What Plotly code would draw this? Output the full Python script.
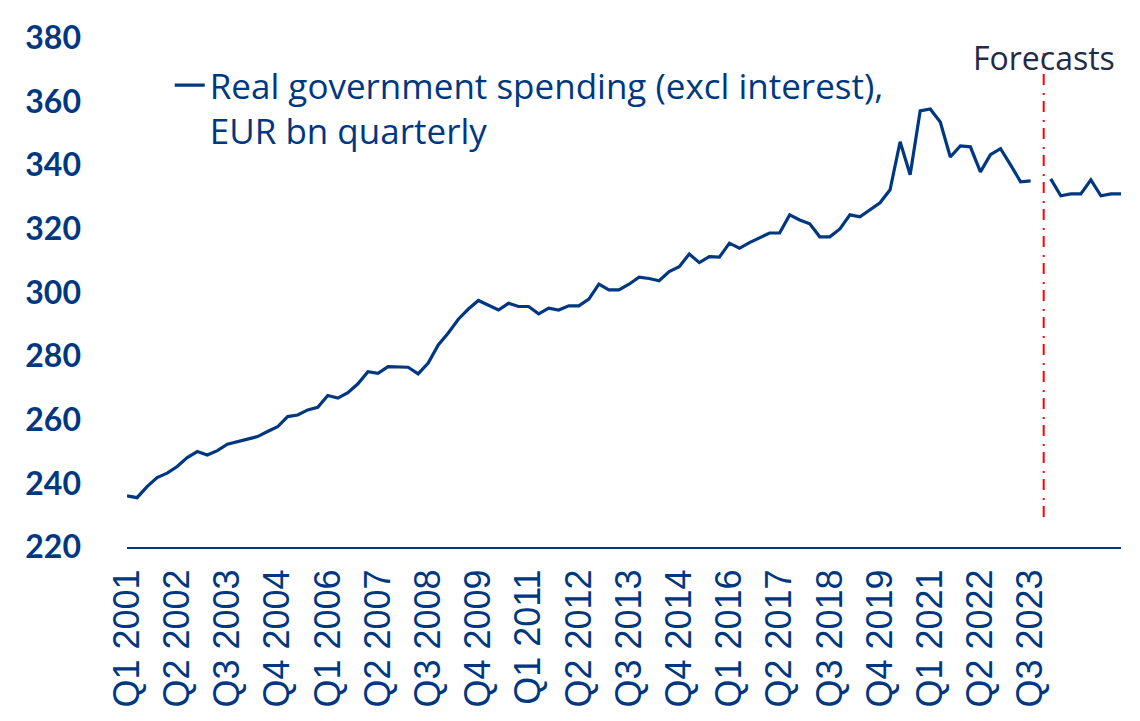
import plotly.graph_objects as go

# ---- data ----
years = list(range(2001, 2026))
quarters = ["Q1", "Q2", "Q3", "Q4"]
categories = [f"{q} {y}" for y in years for q in quarters]  # Q1 2001 .. Q4 2025

historical = [
    236.1, 235.5, 239.0, 241.8, 243.2, 245.3, 248.1, 250.0, 248.9, 250.3,
    252.3, 253.1, 254.0, 254.7, 256.3, 257.8, 261.0, 261.5, 263.1, 263.9,
    267.6, 266.8, 268.5, 271.3, 275.1, 274.6, 276.7, 276.5, 276.5, 274.4,
    277.8, 283.5, 287.3, 291.6, 294.8, 297.5, 295.9, 294.5, 296.6, 295.6,
    295.6, 293.3, 295.1, 294.5, 295.8, 295.8, 297.9, 302.6, 300.8, 300.8,
    302.6, 304.8, 304.4, 303.7, 306.6, 308.1, 312.1, 309.4, 311.3, 311.1,
    315.5, 313.9, 315.7, 317.3, 318.7, 318.7, 324.4, 322.8, 321.6, 317.5,
    317.5, 320.0, 324.4, 323.8, 326.0, 328.2, 332.3, 347.4, 337.0, 357.1,
    357.7, 353.6, 342.6, 346.1, 345.8, 337.9, 343.3, 345.2, 340.1, 334.8,
    335.1,
]  # Q1 2001 .. Q3 2023
gap_quarter = [None]  # Q4 2023
forecast = [335.7, 330.4, 331.0, 331.0, 335.4, 330.4, 331.0, 331.0]  # Q1 2024 .. Q4 2025

values = historical + gap_quarter + forecast

tick_labels = categories[0:len(historical):5]
y_ticks = list(range(220, 381, 20))
forecast_marker = len(historical) + 0.3  # category position of the forecast divider

series_name = "Real government spending (excl interest),<br>EUR bn quarterly"

BLUE = "#003781"

fig = go.Figure()
fig.add_trace(go.Scatter(
    x=categories, y=values, mode="lines", name=series_name,
    line=dict(color=BLUE, width=3.2), connectgaps=False,
))

fig.add_annotation(
    x=forecast_marker, y=374.0, xref="x", yref="y",
    text="Forecasts", showarrow=False, xanchor="center", yanchor="middle",
    font=dict(family="Open Sans", size=32, color="#1f2b47"),
)
fig.add_shape(
    type="line", xref="x", yref="y",
    x0=forecast_marker, x1=forecast_marker, y0=229.4, y1=375.3,
    line=dict(color="#ff0000", width=2, dash="11px,6px,2px,8px"),
    layer="above",
)

# page has an 8px body margin, so the figure is offset by (8, 8)
fig.update_layout(
    width=1140, height=721,
    margin=dict(l=119, r=27, t=30, b=182, autoexpand=False),
    plot_bgcolor="white", paper_bgcolor="white",
    showlegend=True,
    legend=dict(
        x=0.043, y=0.965, xanchor="left", yanchor="top",
        bgcolor="rgba(0,0,0,0)", valign="top",
        font=dict(family="Open Sans", size=35, color=BLUE, weight=500),
        itemwidth=30, tracegroupgap=0,
    ),
)
fig.update_xaxes(
    type="category", categoryorder="array", categoryarray=categories,
    range=[0, len(categories) - 1], automargin=False,
    tickmode="array", tickvals=tick_labels, ticktext=tick_labels,
    tickangle=-90, ticks="", showgrid=False, zeroline=False,
    showline=True, linecolor=BLUE, linewidth=2,
    tickfont=dict(family="Liberation Sans", size=36, color=BLUE),
    ticklabelstandoff=6,
)
fig.update_yaxes(
    range=[220, 380], tickmode="array", tickvals=y_ticks, automargin=False,
    showgrid=False, zeroline=False, showline=False, ticks="",
    tickfont=dict(family="Lato", size=32, color=BLUE, weight="bold"),
    ticklabelstandoff=45,
)

fig.write_html("out.html")
